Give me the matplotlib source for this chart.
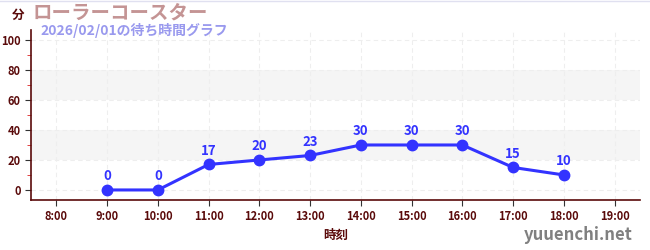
import matplotlib
matplotlib.use("Agg")
import matplotlib.pyplot as plt
from matplotlib.ticker import MultipleLocator

plt.rcParams['font.family'] = ['Noto Sans CJK JP', 'DejaVu Sans']

hours = [9, 10, 11, 12, 13, 14, 15, 16, 17, 18]
waits = [0, 0, 17, 20, 23, 30, 30, 30, 15, 10]
tick_hours = list(range(8, 20))
tick_labels = [f"{h}:00" for h in tick_hours]
title = "ローラーコースター"
subtitle = "2026/02/01の待ち時間グラフ"

dark = "#5a0a0a"
blue = "#3333ff"

fig = plt.figure(figsize=(6.5, 2.5), dpi=100)
ax = fig.add_axes([31/650, 1 - 200/250, 609/650, 170/250])
ax.set_xlim(7.5, 19.5)
ax.set_ylim(-6.7, 106.7)

for lo, hi in [(20, 40), (60, 80)]:
    ax.axhspan(lo, hi, color="#f5f5f5", zorder=0, lw=0)

ax.set_yticks([0, 20, 40, 60, 80, 100])
ax.yaxis.set_minor_locator(MultipleLocator(10))
ax.set_xticks(tick_hours)
ax.set_xticklabels(tick_labels)
ax.grid(True, which='major', color="#eeeeee", ls=(0, (4, 3)), lw=0.8)
ax.set_axisbelow(True)

ax.plot(hours, waits, color=blue, lw=2.2, marker='o', ms=7.5, zorder=3)
for h, w in zip(hours, waits):
    ax.annotate(str(w), (h, w), xytext=(0, 5), textcoords='offset points',
                ha='center', va='bottom', color=blue, fontsize=9.5, fontweight='bold')

for s in ['top', 'right']:
    ax.spines[s].set_visible(False)
for s in ['left', 'bottom']:
    ax.spines[s].set_color(dark)
    ax.spines[s].set_linewidth(1.2)

ax.tick_params(axis='both', which='major', colors='#333333', labelcolor=dark, labelsize=8, length=4)
ax.tick_params(axis='y', which='minor', colors='#dd2222', length=3)
for lab in ax.get_xticklabels() + ax.get_yticklabels():
    lab.set_fontweight('bold')

ax.set_xlabel("時刻", color=dark, fontsize=9, fontweight='bold', labelpad=4)

fig.text(12/650, 1 - 15/250, "分", color=dark, fontsize=9, fontweight='bold', va='center')
fig.text(33/650, 1 - 13/250, title, color="#c49494", fontsize=14, fontweight='bold', va='center')
fig.text(40/650, 1 - 31/250, subtitle, color="#9999ee", fontsize=10, fontweight='bold', va='center')
fig.text(633/650, 1 - 235/250, "yuuenchi.net", color="#808080", fontsize=12, fontweight='bold',
         ha='right', va='center')

fig.add_artist(plt.Line2D([0, 1], [0.998, 0.998], color="#e0e0f0", lw=1, transform=fig.transFigure))

fig.savefig("out.png", dpi=100)
